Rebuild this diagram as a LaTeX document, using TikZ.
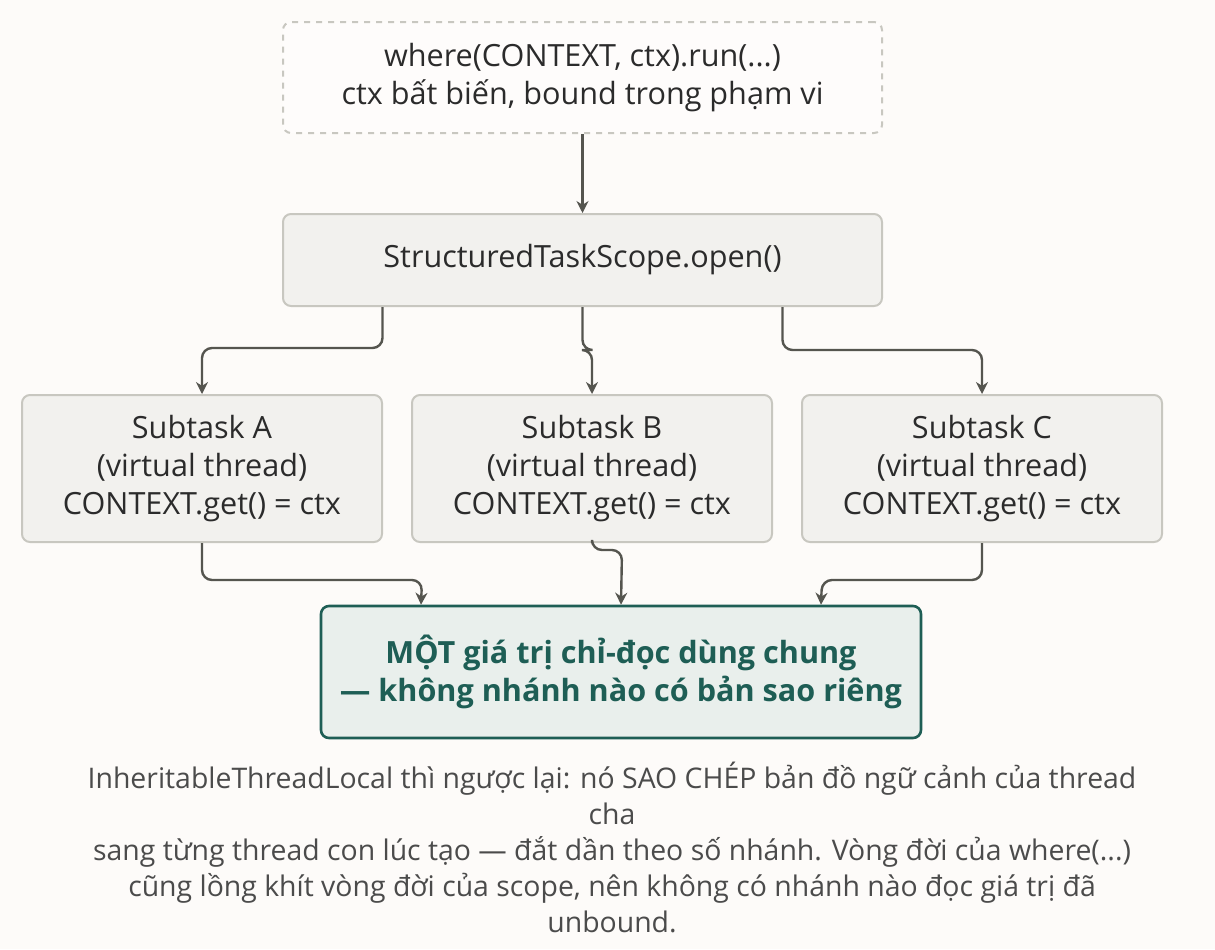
\documentclass[tikz,border=0pt]{standalone}
\usepackage{fontspec}
\setmainfont{Open Sans}
\usetikzlibrary{arrows.meta,calc}
\definecolor{boxfill}{HTML}{F2F1EE}
\definecolor{boxline}{HTML}{C8C7C0}
\definecolor{teal}{HTML}{1E5E55}
\definecolor{tealfill}{HTML}{E9EFEC}
\definecolor{arrowc}{HTML}{55554F}
\definecolor{txt}{HTML}{2B2B2B}
\tikzset{
  box/.style = {draw = boxline, fill = boxfill, line width = 1pt, rounded corners = 4pt,
    align = center, text = txt, font = \fontsize{15.3}{19}\selectfont, inner sep = 0pt},
  conn/.style = {draw = arrowc, line width = 1.2pt, rounded corners = 5pt, -{Stealth[length=6pt,width=6pt]}}
}
\begin{document}
\begin{tikzpicture}[x = 0.5pt, y = -0.5pt]
\fill[white!97!brown] (0,0) rectangle (1215,949);
\useasboundingbox (0,0) rectangle (1215,949);
\node[box, dashed, fill = white!98!brown, minimum width = 299.5pt, minimum height = 55.5pt] (where) at (582.5,77.5) {where(CONTEXT, ctx).run(...)\\ctx bất biến, bound trong phạm vi};
\node[box, minimum width = 299.5pt, minimum height = 46pt] (scope) at (582.5,260) {StructuredTaskScope.open()};
\foreach \name/\cx in {A/202, B/592, C/982}
  \node[box, minimum width = 180pt, minimum height = 73.5pt] (sub\name) at (\cx,468.5) {Subtask \name\\(virtual thread)\\CONTEXT.get() = ctx};
\node[box, draw = teal, fill = tealfill, line width = 1.3pt, text = teal, font = \fontsize{15.3}{19}\selectfont\bfseries, minimum width = 300pt, minimum height = 66pt] (shared) at (621,672) {MỘT giá trị chỉ-đọc dùng chung\\— không nhánh nào có bản sao riêng};
\draw[conn] (where) -- (scope);
\draw[conn] ([xshift=-100pt]scope.south) |- (202,348) -- (subA.north);
\draw[conn] (scope.south) |- (592,350) -- (subB.north);
\draw[conn] ([xshift=100pt]scope.south) |- (982,350) -- (subC.north);
\draw[conn] (subA.south) |- (422,580) -- ([xshift=-100pt]shared.north);
\draw[conn] (subB.south) |- (622,550) -- (shared.north);
\draw[conn] (subC.south) |- (822,580) -- ([xshift=100pt]shared.north);
\node[align = center, text = txt!85!white, font = \fontsize{14.2}{18}\selectfont, inner sep = 0pt] (note) at (612,847) {InheritableThreadLocal thì ngược lại: nó SAO CHÉP bản đồ ngữ cảnh của thread\\cha\\sang từng thread con lúc tạo — đắt dần theo số nhánh. Vòng đời của where(...)\\cũng lồng khít vòng đời của scope, nên không có nhánh nào đọc giá trị đã\\unbound.};
\end{tikzpicture}
\end{document}
